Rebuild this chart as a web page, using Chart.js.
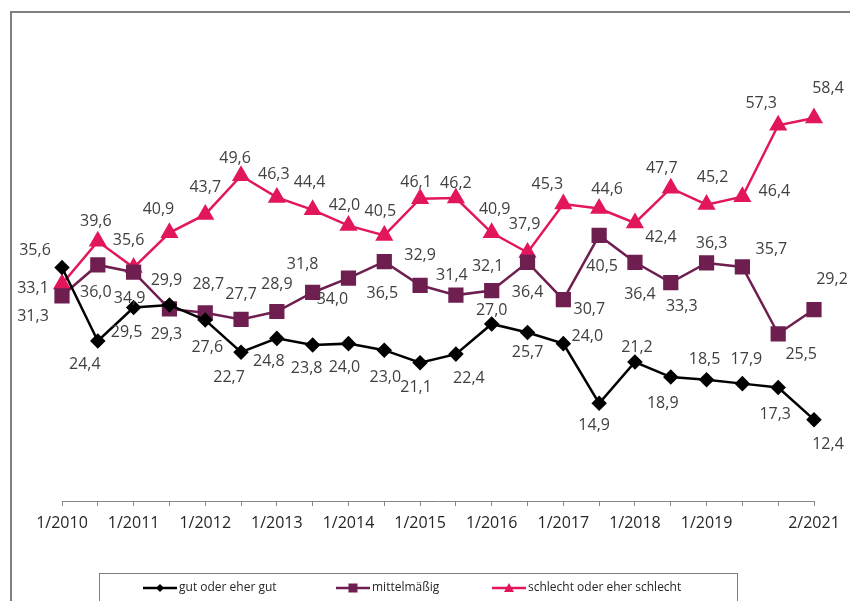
<!DOCTYPE html>
<html>
<head>
<meta charset="utf-8">
<script src="https://cdn.jsdelivr.net/npm/chart.js@4"></script>
<style>
  body { margin: 0; background: #fff; }
  canvas { display: block; }
</style>
</head>
<body>
<canvas id="chart" width="850" height="601"></canvas>
<script>
// categories (half-year surveys), only some get a visible tick label
const categories = ['1/2010', '', '1/2011', '', '1/2012', '', '1/2013', '', '1/2014', '', '1/2015', '',
  '1/2016', '', '1/2017', '', '1/2018', '', '1/2019', '', '', '2/2021'];

const seriesNames = ['gut oder eher gut', 'mittelmäßig', 'schlecht oder eher schlecht'];

const gut = [35.6, 24.4, 29.5, 29.9, 27.6, 22.7, 24.8, 23.8, 24.0, 23.0, 21.1, 22.4,
  27.0, 25.7, 24.0, 14.9, 21.2, 18.9, 18.5, 17.9, 17.3, 12.4];
const mittel = [31.3, 36.0, 34.9, 29.3, 28.7, 27.7, 28.9, 31.8, 34.0, 36.5, 32.9, 31.4,
  32.1, 36.4, 30.7, 40.5, 36.4, 33.3, 36.3, 35.7, 25.5, 29.2];
const schlecht = [33.1, 39.6, 35.6, 40.9, 43.7, 49.6, 46.3, 44.4, 42.0, 40.5, 46.1, 46.2,
  40.9, 37.9, 45.3, 44.6, 42.4, 47.7, 45.2, 46.4, 57.3, 58.4];

// where each value label sits relative to its point (dx, dy in px)
const gutOffsets = [[-27,-17],[-13,23],[-7,25],[-3,-25],[2,27],[-12,25],[-8,23],[-6,23],[-4,24],[1,27],[-4,25],
  [13,24],[0,-14],[0,20],[24,-7],[-5,22],[2,-15],[-8,26],[-2,-20],[4,-24],[-3,27],[14,25]];
const mittelOffsets = [[-29,21],[-2,27],[-4,26],[-3,26],[3,-28],[0,-25],[0,-27],[-10,-28],[-16,21],[-2,32],[0,-30],
  [-4,-20],[-4,-24],[0,30],[26,10],[3,31],[5,32],[11,24],[5,-20],[29,-17],[23,21],[18,-30]];
const schlechtOffsets = [[-29,4],[-2,-20],[-5,-27],[-11,-23],[0,-27],[-6,-17],[-3,-23],[-3,-27],[-4,-20],[-4,-24],[-4,-16],
  [0,-15],[3,-23],[-3,-28],[-16,-20],[8,-19],[26,14],[-9,-20],[6,-27],[32,-5],[-17,-22],[14,-30]];

const BLACK = '#000000';
const PLUM = '#6e1f50';
const PINK = '#e2175b';
const FONT = "'Open Sans', 'DejaVu Sans', sans-serif";

function drawMarker(ctx, style, x, y, r, color) {
  ctx.save();
  ctx.fillStyle = color;
  ctx.beginPath();
  if (style === 'rectRot') {
    ctx.moveTo(x, y - r); ctx.lineTo(x + r, y); ctx.lineTo(x, y + r); ctx.lineTo(x - r, y);
  } else if (style === 'rect') {
    ctx.rect(x - r, y - r, 2 * r, 2 * r);
  } else {
    ctx.moveTo(x, y - r); ctx.lineTo(x + r, y + r * 0.8); ctx.lineTo(x - r, y + r * 0.8);
  }
  ctx.closePath();
  ctx.fill();
  ctx.restore();
}

const framePlugin = {
  id: 'frame',
  beforeDraw(chart) {
    const ctx = chart.ctx;
    ctx.save();
    ctx.fillStyle = '#fff';
    ctx.fillRect(0, 0, chart.width, chart.height);
    ctx.strokeStyle = '#7f7f7f';
    ctx.lineWidth = 2;
    ctx.beginPath();
    ctx.moveTo(11, 601); ctx.lineTo(11, 12); ctx.lineTo(850, 12);
    ctx.stroke();
    ctx.restore();
  }
};

const labelPlugin = {
  id: 'valueLabels',
  afterDatasetsDraw(chart) {
    const ctx = chart.ctx;
    const offsets = [gutOffsets, mittelOffsets, schlechtOffsets];
    ctx.save();
    ctx.font = '16px ' + FONT;
    ctx.fillStyle = '#404040';
    ctx.textAlign = 'center';
    ctx.textBaseline = 'middle';
    chart.data.datasets.forEach((ds, i) => {
      const meta = chart.getDatasetMeta(i);
      meta.data.forEach((pt, j) => {
        const o = offsets[i][j];
        ctx.fillText(ds.data[j].toFixed(1).replace('.', ','), pt.x + o[0], pt.y + o[1]);
      });
    });
    ctx.restore();
  }
};

const legendPlugin = {
  id: 'boxLegend',
  afterDraw(chart) {
    const ctx = chart.ctx;
    ctx.save();
    ctx.strokeStyle = '#7f7f7f';
    ctx.lineWidth = 1;
    ctx.strokeRect(99.5, 573.5, 638, 40);
    const starts = [143, 336, 492];
    const sizes = [4, 4.5, 5];
    ctx.font = '12px ' + FONT;
    ctx.textBaseline = 'middle';
    ctx.textAlign = 'left';
    chart.data.datasets.forEach((ds, i) => {
      const x = starts[i], y = 588;
      ctx.strokeStyle = ds.borderColor;
      ctx.lineWidth = 2.5;
      ctx.beginPath(); ctx.moveTo(x, y); ctx.lineTo(x + 34, y); ctx.stroke();
      drawMarker(ctx, ds.pointStyle, x + 17, y, sizes[i], ds.borderColor);
      ctx.fillStyle = '#262626';
      ctx.fillText(ds.label, x + 36, y);
    });
    ctx.restore();
  }
};

new Chart(document.getElementById('chart'), {
  type: 'line',
  data: {
    labels: categories,
    datasets: [
      { label: seriesNames[0], data: gut, borderColor: BLACK, backgroundColor: BLACK,
        pointStyle: 'rectRot', pointRadius: 6, borderWidth: 2.5, clip: false },
      { label: seriesNames[1], data: mittel, borderColor: PLUM, backgroundColor: PLUM,
        pointStyle: 'rect', pointRadius: 9, borderWidth: 2.5, clip: false },
      { label: seriesNames[2], data: schlecht, borderColor: PINK, backgroundColor: PINK,
        pointStyle: 'triangle', pointRadius: 8, borderWidth: 2.5, clip: false }
    ]
  },
  options: {
    responsive: false,
    animation: false,
    layout: { padding: { left: 62, right: 36, top: 42, bottom: 0 } },
    elements: { line: { tension: 0 }, point: { borderWidth: 0 } },
    plugins: { legend: { display: false }, tooltip: { enabled: false } },
    scales: {
      y: { display: false, min: 0, max: 70 },
      x: {
        offset: false,
        afterFit(scale) { scale.height = 100; },
        border: { display: true, color: '#868686', width: 1 },
        grid: { drawOnChartArea: false, drawTicks: true, tickLength: 5, color: '#868686' },
        ticks: {
          autoSkip: false, maxRotation: 0, padding: 8, color: '#262626',
          font: { family: FONT, size: 16 }
        }
      }
    }
  },
  plugins: [framePlugin, labelPlugin, legendPlugin]
});
</script>
</body>
</html>
